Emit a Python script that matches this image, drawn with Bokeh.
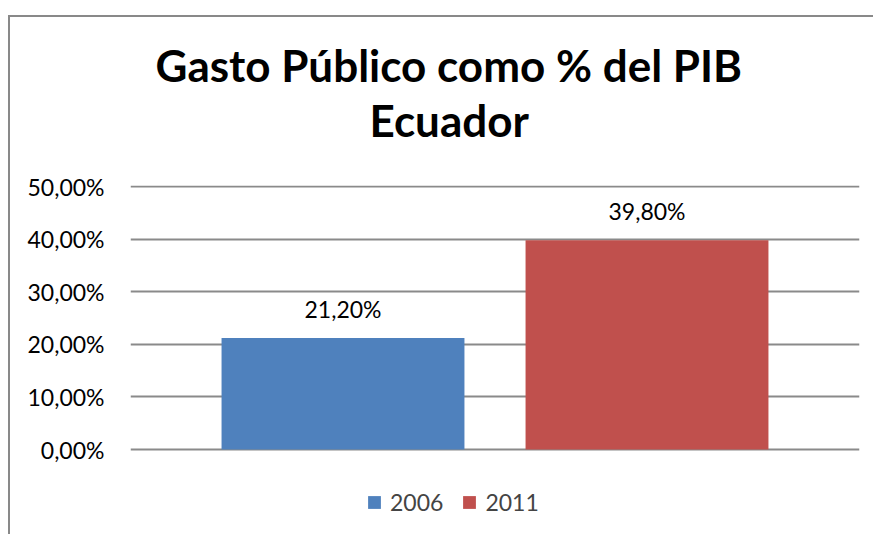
from bokeh.plotting import figure
from bokeh.models import (Range1d, FixedTicker, Legend, LegendItem, Title,
                          ColumnDataSource)
from bokeh.embed import file_html
from bokeh.resources import INLINE
from bokeh.core.properties import value

# ---- data ----
title_lines = ["Gasto Público como % del PIB", "Ecuador"]
years = ["2006", "2011"]
values = [0.212, 0.398]
colors = ["#4F81BD", "#C0504D"]
y_ticks = [0.0, 0.1, 0.2, 0.3, 0.4, 0.5]


def es_pct(v):
    return f"{v * 100:.2f}%".replace(".", ",")


FONT = "Lato"
W, H = 873, 534
BORDER = "#898989"

src = ColumnDataSource(dict(
    x=list(range(len(years))),
    top=values,
    color=colors,
    year=years,
    label=[es_pct(v) for v in values],
))

# frame runs to the bottom of the canvas so the legend can sit inside it
p = figure(width=W, height=H, output_backend="svg", toolbar_location=None,
           x_range=Range1d(-0.699, 1.699), y_range=Range1d(-0.1616, 0.502),
           x_axis_location=None,
           min_border_left=130, min_border_right=14,
           min_border_top=185, min_border_bottom=0)
p.outline_line_color = None
p.background_fill_color = "white"
p.border_fill_color = None
p.styles = {
    "background": (f"linear-gradient({BORDER},{BORDER}) 8px 15px / 100% 2px no-repeat, "
                   f"linear-gradient({BORDER},{BORDER}) 8px 15px / 2px 100% no-repeat, white"),
}
p.xgrid.grid_line_color = None

ya = p.yaxis[0]
ya.ticker = FixedTicker(ticks=y_ticks)
ya.major_label_overrides = {t: es_pct(t) for t in y_ticks}
ya.axis_line_color = None
ya.major_tick_line_color = None
ya.minor_tick_line_color = None
ya.major_tick_out = 0
ya.major_tick_in = 0
ya.major_label_standoff = 26
ya.major_label_text_font = FONT
ya.major_label_text_font_size = "23px"
ya.major_label_text_color = "black"

p.ygrid.ticker = FixedTicker(ticks=y_ticks)
p.ygrid.grid_line_color = "#8a8a8a"
p.ygrid.grid_line_width = 2

bars = p.vbar(x="x", top="top", width=0.799, bottom=0, source=src,
              fill_color="color", line_color=None)

p.text(x="x", y="top", text="label", source=src, y_offset=-29,
       text_align="center", text_baseline="alphabetic",
       text_font=value(FONT), text_font_size="23px", text_color="black")

# title (two lines, second added first so it sits nearer the plot)
for line, off, so in zip(reversed(title_lines), [239, 25], [79, -77]):
    p.add_layout(Title(text=line, align="left", offset=off,
                       standoff=so, text_font=FONT,
                       text_font_style="bold", text_font_size="44px",
                       text_color="black"), "above")

# legend
items = [LegendItem(label=yr, renderers=[bars], index=i)
         for i, yr in enumerate(years)]
legend = Legend(items=items, orientation="horizontal", location=(236, 18),
                glyph_width=16, glyph_height=16, label_standoff=8, spacing=18,
                padding=0, margin=0, border_line_color=None,
                background_fill_alpha=0,
                label_text_font=FONT, label_text_font_size="23px")
p.add_layout(legend, "center")

open("out.html", "w").write(file_html(p, INLINE))
